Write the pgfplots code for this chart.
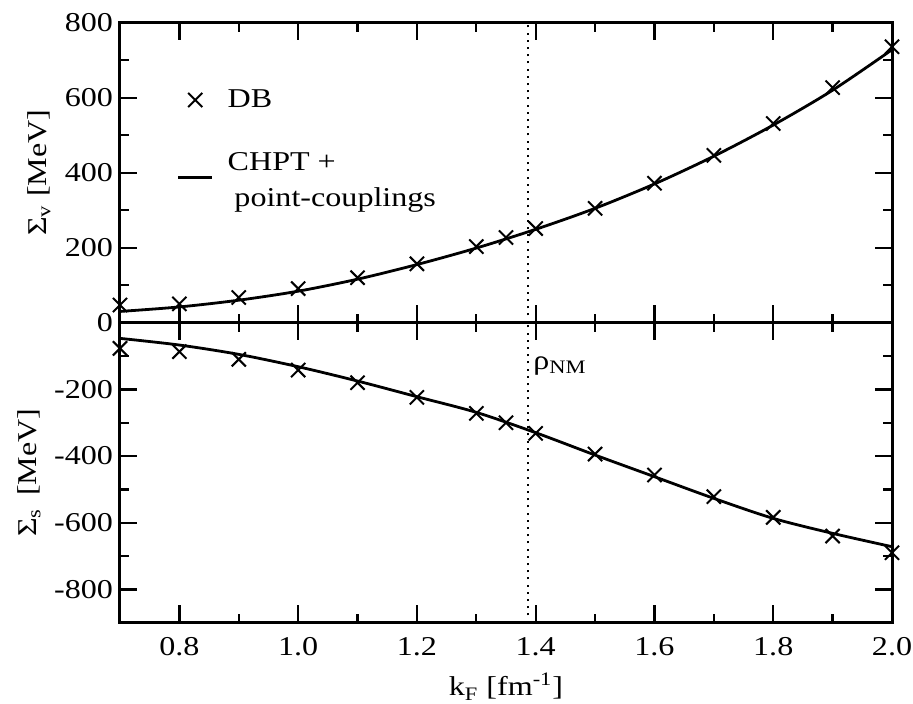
\documentclass[border=0pt]{standalone}
\usepackage{fontspec}
\setmainfont{Liberation Serif}[FakeStretch=1.18]
\usepackage{pgfplots}
\pgfplotsset{compat=1.18}

\newcommand{\figfont}{\fontsize{13.6}{16}\selectfont}

\pgfplotsset{
  panel/.style={
    width=386pt, height=150pt, scale only axis,
    xmin=0.7, xmax=2.0,
    xtick={0.8,1.0,1.2,1.4,1.6,1.8,2.0},
    minor xtick={0.9,1.1,1.3,1.5,1.7,1.9},
    tick align=inside, tick pos=both,
    major tick length=8.7pt, minor tick length=4.5pt,
    every tick/.style={black, line width=1.15pt},
    axis line style={line width=1.5pt},
    /pgf/number format/assume math mode=true,
    tick label style={font=\figfont},
    label style={font=\figfont},
    xticklabel style={yshift=-4pt, /pgf/number format/fixed, /pgf/number format/fixed zerofill, /pgf/number format/precision=1},
  },
  dbmark/.style={only marks, mark=x, mark size=5pt, mark options={line width=1pt}, black,
    legend image code/.code={\draw[##1] plot coordinates {(8.5pt,0pt)};}},
  chpt/.style={no marks, line width=1.4pt, black, smooth,
    legend image code/.code={\draw[##1] (0pt,0pt) -- (17pt,0pt);}},
  nmline/.style={no marks, black, line width=1pt, dash pattern=on 1pt off 2.6pt},
}

\begin{document}
\begin{tikzpicture}
\path[use as bounding box] (-60pt,-40.65pt) rectangle (396.5pt,311.35pt);

% upper panel: vector self-energy
\begin{axis}[panel, at={(0,150pt)},
  ymin=0, ymax=800,
  ytick={0,200,400,600,800}, minor ytick={100,300,500,700},
  xticklabels={},
  ylabel={Σ\textsubscript{v} [MeV]},
  ylabel style={at={(axis description cs:-0.105,0.5)}, anchor=center},
  legend style={draw=none, fill=none, font=\figfont, at={(axis cs:0.785,644)}, anchor=north west, row sep=15pt, column sep=5pt},
  legend cell align=left,
]
\addplot[dbmark] coordinates {
  (0.7,47) (0.8,50) (0.9,67) (1.0,91) (1.1,120) (1.2,157) (1.3,203) (1.35,227)
  (1.4,251) (1.5,305) (1.6,372) (1.7,446) (1.8,531) (1.9,627) (2.0,736)
};
\addlegendentry{DB}
\addplot[chpt] coordinates {
  (0.7,30) (0.8,42) (0.9,60) (1.0,84) (1.1,116) (1.2,155) (1.3,199) (1.4,249)
  (1.5,305) (1.6,370) (1.7,444) (1.8,527) (1.9,620) (2.0,728)
};
\addlegendentry{\raisebox{7pt}{\begin{tabular}[c]{@{}l@{}}CHPT +\\[2pt]\hspace{0.25em}point-couplings\end{tabular}}}
\addplot[nmline, forget plot] coordinates {(1.3876,0) (1.3876,800)};
\end{axis}

% lower panel: scalar self-energy
\begin{axis}[panel, at={(0,0)},
  ymin=-900, ymax=0,
  ytick={-800,-600,-400,-200}, minor ytick={-900,-700,-500,-300,-100},
  xlabel={k\textsubscript{F} [fm\textsuperscript{-1}]},
  xlabel style={yshift=-1.5pt},
  ylabel={Σ\textsubscript{s}\, [MeV]},
  ylabel style={at={(axis description cs:-0.118,0.5)}, anchor=center},
]
\addplot[dbmark] coordinates {
  (0.7,-77) (0.8,-87) (0.9,-110) (1.0,-142) (1.1,-180) (1.2,-224) (1.3,-272) (1.35,-300)
  (1.4,-332) (1.5,-394) (1.6,-457) (1.7,-522) (1.8,-584) (1.9,-640) (2.0,-690)
};
\addplot[chpt] coordinates {
  (0.7,-47) (0.8,-67) (0.9,-95) (1.0,-132) (1.1,-175) (1.2,-222) (1.3,-269) (1.4,-330)
  (1.5,-397) (1.6,-462) (1.7,-527) (1.8,-587) (1.9,-632) (2.0,-672)
};
\addplot[nmline] coordinates {(1.3876,-900) (1.3876,0)};
\node[anchor=west, font=\figfont, inner sep=1pt] at (axis cs:1.392,-130) {ρ\textsubscript{NM}};
\end{axis}
\end{tikzpicture}
\end{document}
